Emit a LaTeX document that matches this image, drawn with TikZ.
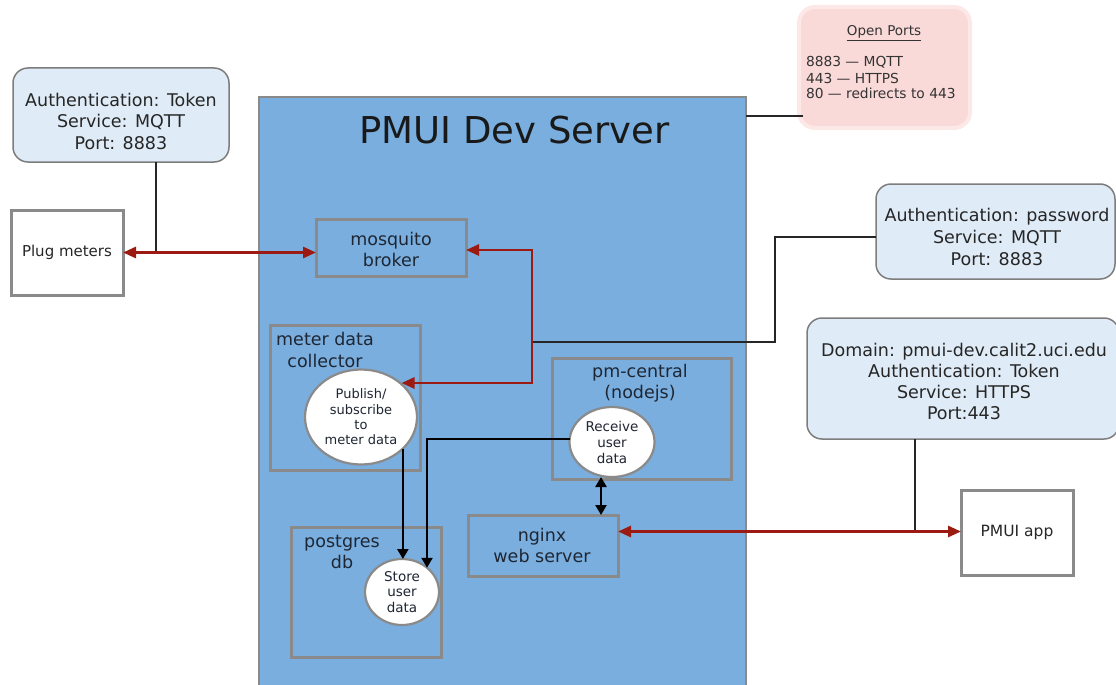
\documentclass[tikz,border=0pt]{standalone}
\usepackage{fontspec}
\setmainfont{DejaVu Sans}
\usetikzlibrary{arrows.meta,shapes.geometric}
\definecolor{srvblue}{HTML}{79AEDE}
\definecolor{authfill}{HTML}{DFEBF6}
\definecolor{pinkfill}{HTML}{FADAD9}
\definecolor{pinkedge}{HTML}{FCE8E7}
\definecolor{darkred}{HTML}{9B1B12}
\definecolor{boxgray}{HTML}{8A8A8A}
\definecolor{authedge}{HTML}{7D7D7D}
\definecolor{txtdark}{HTML}{1F2633}
\newcommand\fsz[2]{\fontsize{#1}{#2}\selectfont}
\begin{document}
\begin{tikzpicture}[x=1pt,y=-1pt,
  every node/.style={inner sep=0pt, outer sep=0pt, text=txtdark},
  srvbox/.style={rectangle, draw=boxgray, line width=2.4pt, fill=srvblue, anchor=north west},
  compbox/.style={rectangle, draw=boxgray, line width=3pt, anchor=north west, align=center, font=\fsz{17.5}{21}},
  authbox/.style={rectangle, draw=authedge, line width=1.5pt, fill=authfill, rounded corners=15pt, anchor=north west},
  plainbox/.style={rectangle, draw=boxgray, line width=3pt, fill=white, anchor=north west},
  portsbox/.style={rectangle, draw=pinkedge, line width=4pt, fill=pinkfill, rounded corners=16pt, anchor=north west},
  task/.style={ellipse, draw=boxgray, line width=2.2pt, fill=white, align=center},
  lbl/.style={align=center, font=\fsz{17.5}{21.5}},
  redarr/.style={draw=darkred, line width=2.8pt, {Triangle[length=13pt,width=11pt]}-{Triangle[length=13pt,width=11pt]}},
  blkarr/.style={draw=black, line width=2.4pt, -{Triangle[length=10pt,width=11pt]}},
  blkdbl/.style={draw=black, line width=2.4pt, {Triangle[length=10pt,width=11pt]}-{Triangle[length=10pt,width=11pt]}},
  conn/.style={draw=black!85, line width=1.4pt}
]
\useasboundingbox (0,0) rectangle (1116,685);
\begin{scope}
\clip (0,0) rectangle (1116,685);

% server
\node[srvbox, minimum width=487pt, minimum height=600pt] (server) at (259,97) {};
\node[font=\fsz{37}{40}, text=black!90] (title) at (514.5,130) {PMUI Dev Server};

% open ports
\node[portsbox, minimum width=171pt, minimum height=121pt] (ports) at (799,7) {};
\node[font=\fsz{13.5}{16}, anchor=base, text=black!80] (portshead) at (884,36) {\underline{Open Ports}};
\node[font=\fsz{13.8}{16}, anchor=base west, text=black!80] (p1) at (806,66.7) {8883 — MQTT};
\node[font=\fsz{13.8}{16}, anchor=base west, text=black!80] (p2) at (806,83.3) {443 — HTTPS};
\node[font=\fsz{13.8}{16}, anchor=base west, text=black!80] (p3) at (806,99) {80 — redirects to 443};

% auth boxes
\node[authbox, minimum width=216pt, minimum height=94pt] (auth1) at (13,68) {};
\node[lbl, text=black!85] (auth1t) at (121,121) {Authentication: Token\\Service: MQTT\\Port: 8883};
\node[authbox, minimum width=239pt, minimum height=95pt] (auth2) at (876,184) {};
\node[lbl, text=black!85, font=\fsz{17.5}{22}] (auth2t) at (997,237) {Authentication: password\\Service: MQTT\\Port: 8883};
\node[authbox, minimum width=312pt, minimum height=121pt] (auth3) at (807,318) {};
\node[lbl, text=black!85, font=\fsz{17.5}{21}] (auth3t) at (964,381) {Domain: pmui-dev.calit2.uci.edu\\Authentication: Token\\Service: HTTPS\\Port:443};

% outside boxes
\node[plainbox, minimum width=112pt, minimum height=85pt] (plug) at (11,210) {};
\node[font=\fsz{15}{18}, text=black!85] (plugt) at (plug.center) {Plug meters};
\node[plainbox, minimum width=112pt, minimum height=85pt] (app) at (961,490) {};
\node[font=\fsz{15.5}{18}, text=black!85] (appt) at (app.center) {PMUI app};

% components
\node[compbox, minimum width=150pt, minimum height=57pt] (mosq) at (316,219) {};
\node[lbl, font=\fsz{17.5}{21}] (mosqt) at (391,249) {mosquito\\broker};
\node[compbox, minimum width=150pt, minimum height=145pt] (coll) at (270,325) {};
\node[lbl, font=\fsz{17.5}{22}] (collt) at (325,350) {meter data\\collector};
\node[compbox, minimum width=179pt, minimum height=121pt] (pmc) at (552,358) {};
\node[lbl, font=\fsz{17.5}{20.5}] (pmct) at (640,383) {pm-central\\(nodejs)};
\node[compbox, minimum width=150pt, minimum height=61pt] (nginx) at (468,515) {};
\node[lbl, font=\fsz{17.5}{21}] (nginxt) at (542,545) {nginx\\web server};
\node[compbox, minimum width=150pt, minimum height=130pt] (pg) at (291,527) {};
\node[lbl, font=\fsz{17.5}{20.5}] (pgt) at (342,552) {postgres\\db};

% tasks
\node[task, minimum width=112pt, minimum height=95pt, font=\fsz{13}{15.3}] (pub) at (361,417) {Publish/\\subscribe\\to\\meter data};
\node[task, minimum width=85pt, minimum height=70pt, font=\fsz{13.5}{16}] (recv) at (612,442) {Receive\\user\\data};
\node[task, minimum width=74pt, minimum height=66pt, font=\fsz{13.5}{15.5}] (store) at (402,592) {Store\\user\\data};

% helper coordinates
\coordinate (j1) at (156,252.5);
\coordinate (r1) at (532,250);
\coordinate (r2) at (532,383);
\coordinate (b1) at (775,342);
\coordinate (b2) at (775,237);
\coordinate (k1) at (427,439);
\coordinate (k3) at (601,0);
\coordinate (k4) at (0,531.5);
\coordinate (k5) at (915,531.5);
\coordinate (k6) at (803,116);

% connectors
\draw[conn] (auth1.south -| j1) -- (j1);
\draw[redarr] (plug.east) -- (plug.east -| mosq.west);
\draw[conn] (r1 |- b1) -- (b1) -- (b2) -- (b2 -| auth2.west);
\draw[redarr] (mosq.east |- r1) -- (r1) -- (r2) -- (r2 -| pub.39);
\draw[blkarr] (k1 -| recv.west) -- (k1) -- (k1 |- store.44);
\draw[blkarr] (pub.-37) -- (pub.-37 |- store.north);
\draw[blkdbl] (recv.south -| k3) -- (k3 |- nginx.north);
\draw[conn] (auth3.south -| k5) -- (k5);
\draw[redarr] (nginx.east |- k4) -- (app.west |- k4);
\draw[conn] (server.east |- k6) -- (k6);
\end{scope}
\end{tikzpicture}
\end{document}
